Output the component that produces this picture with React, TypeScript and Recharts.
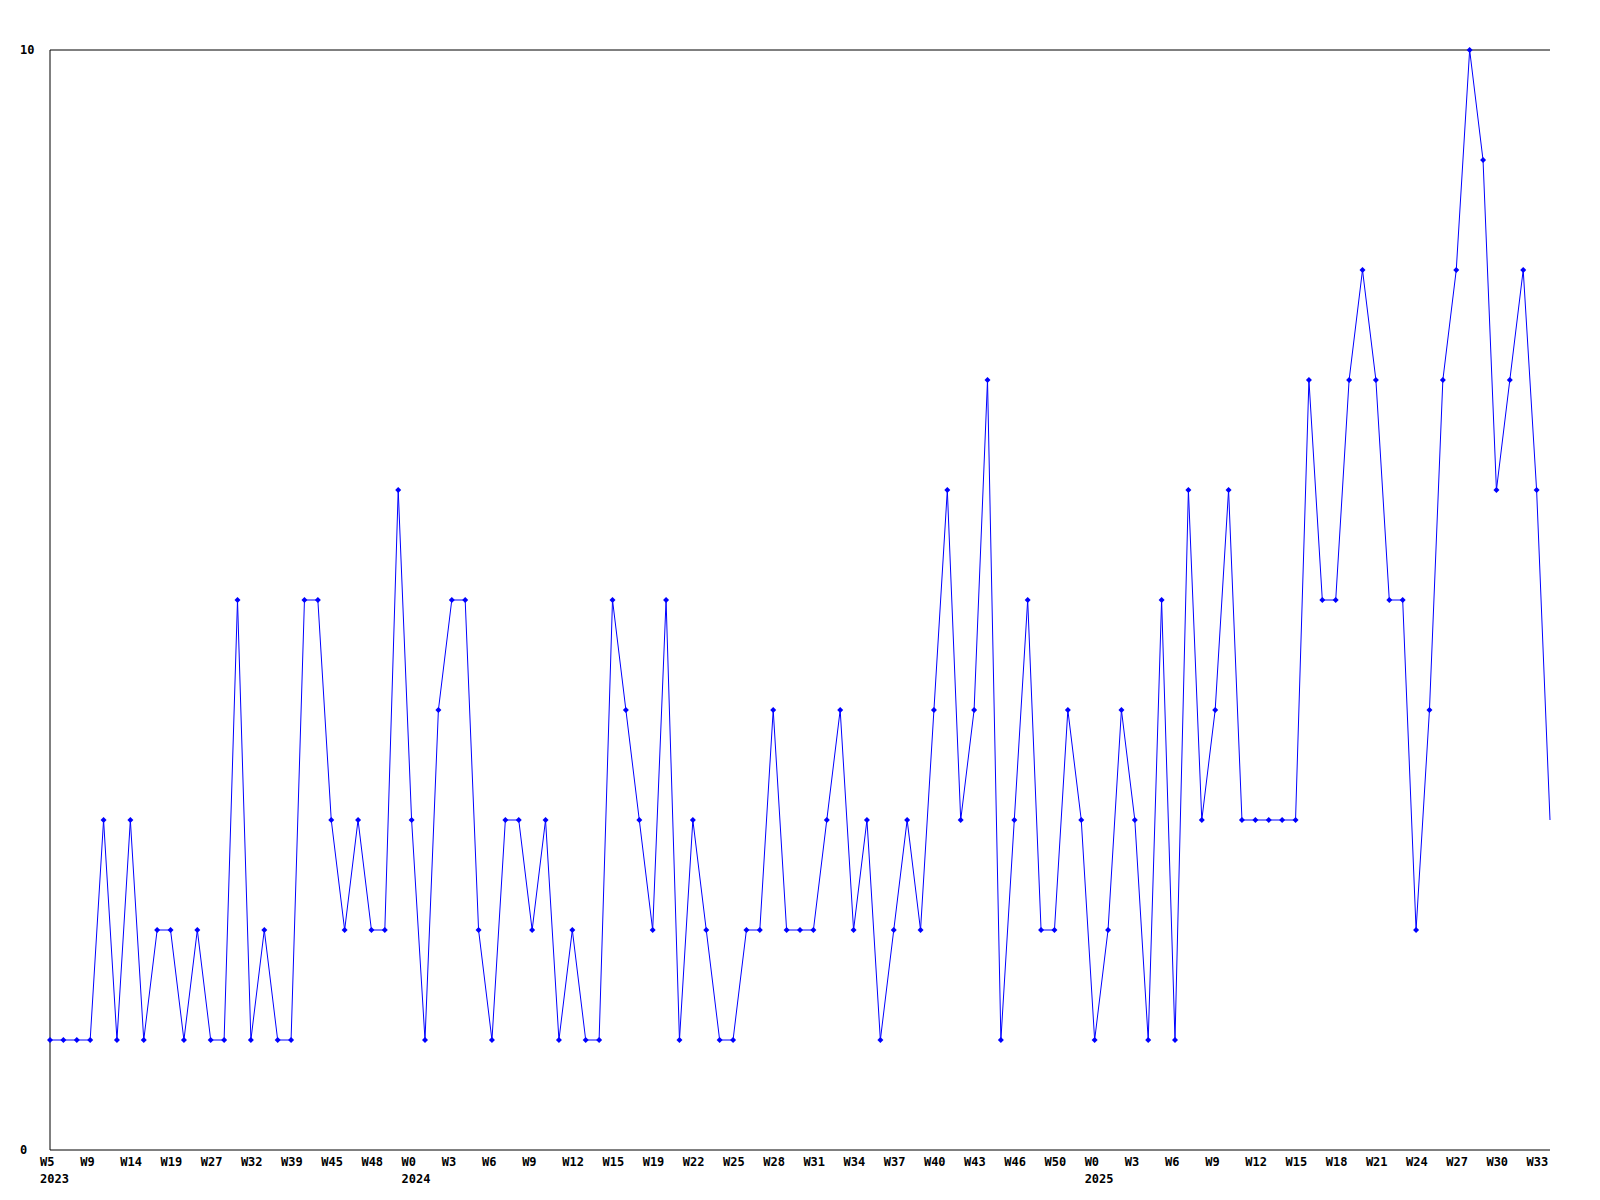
import React from 'react';
import { LineChart, Line, XAxis, YAxis, ReferenceLine } from 'recharts';

// one value per week entry (scale 0..10)
const counts = [
  1, 1, 1, 1, 3, 1, 3, 1, 2, 2,
  1, 2, 1, 1, 5, 1, 2, 1, 1, 5,
  5, 3, 2, 3, 2, 2, 6, 3, 1, 4,
  5, 5, 2, 1, 3, 3, 2, 3, 1, 2,
  1, 1, 5, 4, 3, 2, 5, 1, 3, 2,
  1, 1, 2, 2, 4, 2, 2, 2, 3, 4,
  2, 3, 1, 2, 3, 2, 4, 6, 3, 4,
  7, 1, 3, 5, 2, 2, 4, 3, 1, 2,
  4, 3, 1, 5, 1, 6, 3, 4, 6, 3,
  3, 3, 3, 3, 7, 5, 5, 7, 8, 7,
  5, 5, 2, 4, 7, 8, 10, 9, 6, 7,
  8, 6, 3,
];

// a label on every third entry
const weekTicks = [
  'W5', 'W9', 'W14', 'W19', 'W27', 'W32', 'W39', 'W45', 'W48',
  'W0', 'W3', 'W6', 'W9', 'W12', 'W15', 'W19', 'W22', 'W25', 'W28', 'W31',
  'W34', 'W37', 'W40', 'W43', 'W46', 'W50',
  'W0', 'W3', 'W6', 'W9', 'W12', 'W15', 'W18', 'W21', 'W24', 'W27', 'W30', 'W33',
];
const yearNames = ['2023', '2024', '2025'];
const yearStartTick = [0, 9, 26];

const TICK_STEP = 3;
const yTicks = [0, 10];

const data = counts.map((v, i) => ({ i, v }));
const xTicks = weekTicks.map((_, k) => k * TICK_STEP);

const FONT = '"DejaVu Sans Mono", monospace';

const XTick = (props: any) => {
  const { x, y, payload } = props;
  const k = Math.round(payload.value / TICK_STEP);
  const yi = yearStartTick.indexOf(k);
  return (
    <g>
      <text x={x - 10} y={y + 16} fontFamily={FONT} fontSize={12} fontWeight="bold" fill="#000">
        {weekTicks[k]}
      </text>
      {yi >= 0 && (
        <text x={x - 10} y={y + 33} fontFamily={FONT} fontSize={12} fontWeight="bold" fill="#000">
          {yearNames[yi]}
        </text>
      )}
    </g>
  );
};

const YTick = (props: any) => {
  const { x, y, payload } = props;
  return (
    <text x={x - 30} y={y + 4} fontFamily={FONT} fontSize={12} fontWeight="bold" fill="#000">
      {payload.value}
    </text>
  );
};

const Diamond = (props: any) => {
  const { cx, cy, index } = props;
  if (index === counts.length - 1) return <g key={`d${index}`} />;
  const r = 3;
  return (
    <path
      key={`d${index}`}
      d={`M${cx},${cy - r}L${cx + r},${cy}L${cx},${cy + r}L${cx - r},${cy}Z`}
      fill="#0000ff"
      stroke="none"
    />
  );
};

export default function App() {
  return (
    <div style={{ position: 'absolute', left: 0, top: 0, width: 1600, height: 1200, background: '#fff' }}>
      <LineChart width={1600} height={1200} data={data} margin={{ top: 50, right: 50, left: 0, bottom: 0 }}>
        <XAxis
          dataKey="i"
          type="number"
          domain={[0, counts.length - 1]}
          ticks={xTicks}
          interval={0}
          height={50}
          tickSize={0}
          tickMargin={0}
          tickLine={false}
          axisLine={{ stroke: '#000', strokeWidth: 1 }}
          tick={<XTick />}
        />
        <YAxis
          type="number"
          domain={[0, 10]}
          ticks={yTicks}
          width={50}
          tickSize={0}
          tickMargin={0}
          tickLine={false}
          axisLine={{ stroke: '#000', strokeWidth: 1 }}
          tick={<YTick />}
        />
        <ReferenceLine y={10} stroke="#000" strokeWidth={1} />
        <Line
          type="linear"
          dataKey="v"
          stroke="#0000ff"
          strokeWidth={1}
          dot={<Diamond />}
          activeDot={false}
          isAnimationActive={false}
        />
      </LineChart>
    </div>
  );
}
